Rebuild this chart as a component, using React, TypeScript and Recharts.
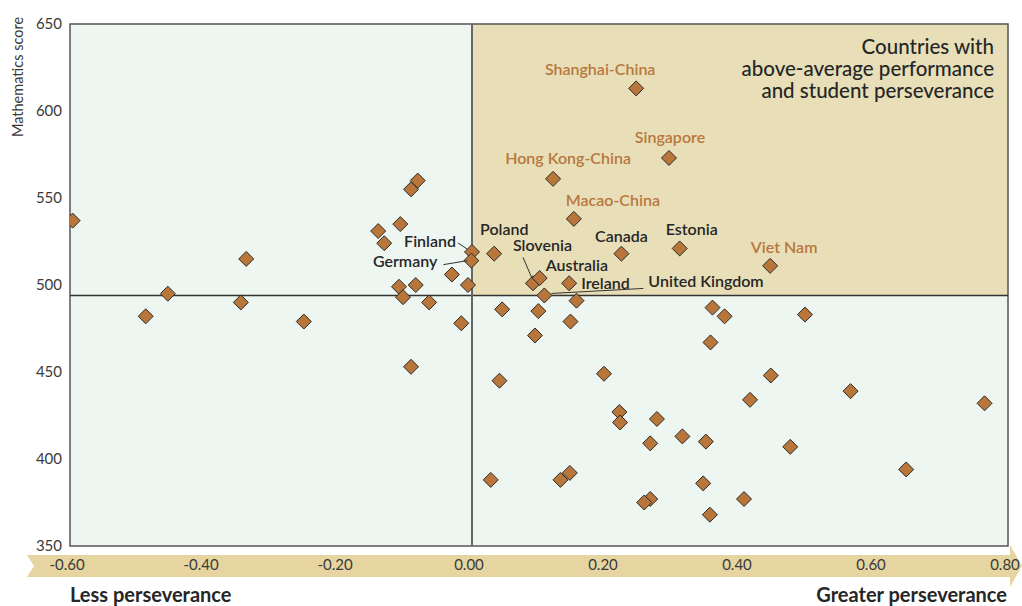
import React from 'react'
import {
  ScatterChart,
  Scatter,
  XAxis,
  YAxis,
  ReferenceArea,
  ReferenceLine,
} from 'recharts'

// perseverance index (x) vs mean mathematics score (y)
const labelledCountries = [
  'Shanghai-China',
  'Singapore',
  'Hong Kong-China',
  'Macao-China',
  'Canada',
  'Estonia',
  'Viet Nam',
  'Poland',
  'Finland',
  'Germany',
  'Slovenia',
  'Australia',
  'Ireland',
  'United Kingdom',
]
const labelledPerseverance = [0.245, 0.294, 0.121, 0.152, 0.223, 0.31, 0.445, 0.033, 0.0, -0.001, 0.091, 0.101, 0.145, 0.108]
const labelledMath = [613, 573, 561, 538, 518, 521, 511, 518, 519, 514, 501, 504, 501, 494]

const otherPerseverance = [
  -0.596, -0.487, -0.454, -0.337, -0.345, -0.251, -0.14, -0.131, -0.107, -0.091, -0.081,
  -0.109, -0.103, -0.084, -0.064, -0.091, -0.03, -0.016, -0.006,
  0.045, 0.099, 0.156, 0.147, 0.094, 0.359, 0.377, 0.497, 0.356, 0.041, 0.197, 0.446,
  0.415, 0.565, 0.22, 0.221, 0.276, 0.314, 0.266, 0.349, 0.475, 0.028, 0.146, 0.132,
  0.345, 0.406, 0.266, 0.257, 0.355, 0.765, 0.648,
]
const otherMath = [
  537, 482, 495, 515, 490, 479, 531, 524, 535, 555, 560,
  499, 493, 500, 490, 453, 506, 478, 500,
  486, 485, 491, 479, 471, 487, 482, 483, 467, 445, 449, 448,
  434, 439, 427, 421, 423, 413, 409, 410, 407, 388, 392, 388,
  386, 377, 377, 375, 368, 432, 394,
]

// names shown in orange (top performers)
const highlighted = ['Shanghai-China', 'Singapore', 'Hong Kong-China', 'Macao-China', 'Viet Nam']

const oecdMathMean = 494
const perseveranceMean = 0

const xTicks = [-0.6, -0.4, -0.2, 0, 0.2, 0.4, 0.6, 0.8]
const yTicks = [350, 400, 450, 500, 550, 600, 650]

// label placement relative to the marker, in px
type LabelPos = {
  dx: number
  dy: number
  anchor: 'start' | 'middle' | 'end'
  line?: [number, number, number, number]
}
const labelPos: Record<string, LabelPos> = {
  'Shanghai-China': { dx: -36, dy: -13, anchor: 'middle' },
  Singapore: { dx: 1, dy: -15, anchor: 'middle' },
  'Hong Kong-China': { dx: 15, dy: -15, anchor: 'middle' },
  'Macao-China': { dx: 39, dy: -13, anchor: 'middle' },
  Canada: { dx: 0, dy: -12, anchor: 'middle' },
  Estonia: { dx: 12, dy: -13, anchor: 'middle' },
  'Viet Nam': { dx: 14, dy: -13, anchor: 'middle' },
  Poland: { dx: -14, dy: -19, anchor: 'start' },
  Finland: { dx: -16, dy: -5, anchor: 'end', line: [-14, -9, -5, -3] },
  Germany: { dx: -34, dy: 6, anchor: 'end', line: [-28, 4, -4, 0] },
  Slovenia: { dx: -20, dy: -32, anchor: 'start', line: [-10, -26, -1, -5] },
  Australia: { dx: 6, dy: -7, anchor: 'start' },
  Ireland: { dx: 12, dy: 6, anchor: 'start' },
  'United Kingdom': { dx: 104, dy: -8, anchor: 'start', line: [7, -2, 99, -7] },
}

const labelled = labelledCountries.map((name, i) => ({
  name,
  x: labelledPerseverance[i],
  y: labelledMath[i],
}))
const others = otherPerseverance.map((x, i) => ({ x, y: otherMath[i] }))

const FONT = 'Lato, "Open Sans", sans-serif'
const MINT = '#EDF6F1'
const TAN = '#E8DFB8'
const BAND = '#E6D5A0'
const MARKER = '#B8763A'
const ORANGE = '#B8773D'

function Diamond(props: any) {
  const { cx, cy } = props
  const r = 7.5
  return (
    <path
      d={`M${cx},${cy - r}L${cx + r},${cy}L${cx},${cy + r}L${cx - r},${cy}Z`}
      fill={MARKER}
      stroke="#2b2b2b"
      strokeWidth={1}
    />
  )
}

function CountryLabel(props: any) {
  const { cx, cy, payload } = props
  const pos = labelPos[payload.name]
  if (!pos) return <g />
  const color = highlighted.includes(payload.name) ? ORANGE : '#262626'
  return (
    <g>
      {pos.line && (
        <line
          x1={cx + pos.line[0]}
          y1={cy + pos.line[1]}
          x2={cx + pos.line[2]}
          y2={cy + pos.line[3]}
          stroke="#333"
          strokeWidth={1}
        />
      )}
      <text
        x={cx + pos.dx}
        y={cy + pos.dy}
        textAnchor={pos.anchor}
        fontFamily={FONT}
        fontSize={16}
        fontWeight={600}
        fill={color}
      >
        {payload.name}
      </text>
    </g>
  )
}

function XTick(props: any) {
  const { x, y, payload } = props
  return (
    <text x={x - 3} y={y + 16} textAnchor="middle" fontFamily={FONT} fontSize={15} fill="#3a3a3a">
      {payload.value.toFixed(2)}
    </text>
  )
}

function YTick(props: any) {
  const { x, y, payload } = props
  return (
    <text x={x} y={y + 5} textAnchor="end" fontFamily={FONT} fontSize={15} fill="#3a3a3a">
      {payload.value}
    </text>
  )
}

export default function App() {
  return (
    <div style={{ position: 'absolute', left: 0, top: 0, width: 1022, height: 606, background: '#fff' }}>
      {/* axis band behind the chart */}
      <svg width={1022} height={606} style={{ position: 'absolute', left: 0, top: 0 }}>
        <polygon
          points="27,555 1010,555 1010,545 1022,566 1010,587 1010,577 27,577 34,566"
          fill={BAND}
        />
        <text x={70} y={602} fontFamily={FONT} fontSize={20} fontWeight={700} fill="#262626">
          Less perseverance
        </text>
        <text x={1007} y={602} textAnchor="end" fontFamily={FONT} fontSize={20} fontWeight={700} fill="#262626">
          Greater perseverance
        </text>
        <text
          x={23}
          y={77}
          transform="rotate(-90 23 77)"
          textAnchor="middle"
          fontFamily={FONT}
          fontSize={14.5}
          fill="#3a3a3a"
        >
          Mathematics score
        </text>
      </svg>

      <div style={{ position: 'absolute', left: 0, top: 0 }}>
        <ScatterChart width={1022} height={606} margin={{ top: 24, right: 14, bottom: 30, left: 0 }}>
          <XAxis
            type="number"
            dataKey="x"
            domain={[-0.6, 0.8]}
            ticks={xTicks}
            interval={0}
            allowDataOverflow
            axisLine={false}
            tickLine={false}
            height={30}
            tick={<XTick />}
          />
          <YAxis
            type="number"
            dataKey="y"
            domain={[350, 650]}
            ticks={yTicks}
            interval={0}
            allowDataOverflow
            axisLine={false}
            tickLine={false}
            width={70}
            tick={<YTick />}
          />
          <ReferenceArea x1={-0.6} x2={0.8} y1={350} y2={650} fill={MINT} fillOpacity={1} stroke="none" />
          <ReferenceArea x1={perseveranceMean} x2={0.8} y1={oecdMathMean} y2={650} fill={TAN} fillOpacity={1} stroke="none" />
          <ReferenceLine y={oecdMathMean} stroke="#333" strokeWidth={1.5} />
          <ReferenceLine x={perseveranceMean} stroke="#666" strokeWidth={2} />
          <ReferenceArea x1={-0.6} x2={0.8} y1={350} y2={650} fill="none" stroke="#555" strokeWidth={1.5} />
          <Scatter data={others} shape={<Diamond />} isAnimationActive={false} />
          <Scatter data={labelled} shape={<Diamond />} isAnimationActive={false} />
          <Scatter data={labelled} shape={<CountryLabel />} isAnimationActive={false} />
        </ScatterChart>
      </div>

      {/* callout text over the top-right quadrant */}
      <svg width={1022} height={606} style={{ position: 'absolute', left: 0, top: 0, pointerEvents: 'none' }}>
        <text textAnchor="end" fontFamily={FONT} fontSize={20.5} fontWeight={500} fill="#262626">
          <tspan x={994} y={54}>Countries with</tspan>
          <tspan x={994} y={76}>above-average performance</tspan>
          <tspan x={994} y={98}>and student perseverance</tspan>
        </text>
      </svg>
    </div>
  )
}
